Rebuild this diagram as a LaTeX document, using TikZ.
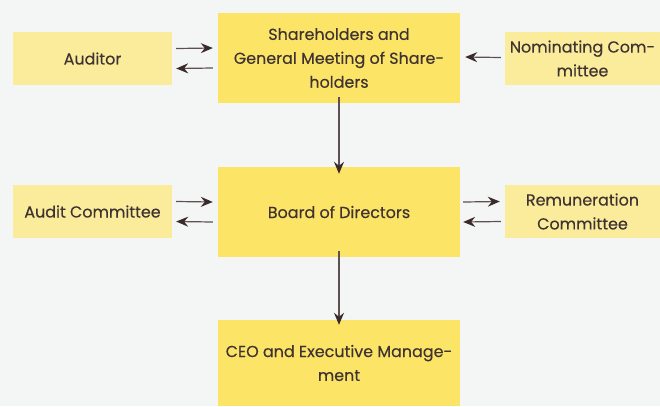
\documentclass[tikz,border=0pt]{standalone}
\usepackage{fontspec}
\setmainfont{Poppins}[FakeBold=0.25]
\usetikzlibrary{arrows.meta}
\definecolor{bg}{HTML}{F4F6F6}
\definecolor{main}{HTML}{FCE566}
\definecolor{side}{HTML}{FAEC9A}
\definecolor{txt}{HTML}{3E3232}
\definecolor{arr}{HTML}{3A2A2A}
\definecolor{shaft}{HTML}{5E5050}
\tikzset{
  box/.style={fill=main, draw=none, text=txt, align=center, font=\fontsize{16}{24}\selectfont, inner sep=0pt},
  sidebox/.style={fill=side, draw=none, text=txt, align=center, font=\fontsize{16}{24}\selectfont, inner sep=0pt},
  conn/.style={draw=shaft, line width=1.2bp, -{Stealth[length=12bp,width=10bp,inset=4bp,color=arr]}}
}
\begin{document}
\begin{tikzpicture}[x=1bp,y=-1bp]
\fill[bg] (0,0) rectangle (660,406);
\useasboundingbox (0,0) rectangle (660,406);
% main boxes
\node[box, minimum width=242bp, minimum height=90bp] (sh) at (339,58) {Shareholders and\\General Meeting of Share-\\holders};
\node[box, minimum width=242bp, minimum height=90bp] (bd) at (339,212) {Board of Directors};
\node[box, minimum width=242bp, minimum height=86bp] (ceo) at (339,363) {CEO and Executive Manage-\\ment};
% side boxes
\node[sidebox, minimum width=159bp, minimum height=53bp] (aud) at (92.5,58.5) {Auditor};
\node[sidebox, minimum width=155bp, minimum height=53bp] (nom) at (582.5,58.5) {Nominating Com-\\mittee};
\node[sidebox, minimum width=159bp, minimum height=53bp] (ac) at (92.5,211.5) {Audit Committee};
\node[sidebox, minimum width=155bp, minimum height=53bp] (rem) at (582.5,211.5) {Remuneration\\Committee};
% connectors
\draw[conn] ([shift={(4,-10)}]aud.east) -- ([shift={(-5,-10)}]sh.west);
\draw[conn] ([shift={(-5,10)}]sh.west) -- ([shift={(4,10)}]aud.east);
\draw[conn] ([shift={(-4,-1)}]nom.west) -- ([shift={(5,-1)}]sh.east);
\draw[conn] ([yshift=6]sh.south) -- ([yshift=-7]bd.north);
\draw[conn] ([shift={(4,-10)}]ac.east) -- ([shift={(-5,-10)}]bd.west);
\draw[conn] ([shift={(-5,10)}]bd.west) -- ([shift={(4,10)}]ac.east);
\draw[conn] ([shift={(3,-10)}]bd.east) -- ([shift={(-5,-10)}]rem.west);
\draw[conn] ([shift={(-4,10)}]rem.west) -- ([shift={(3,10)}]bd.east);
\draw[conn] ([yshift=6]bd.south) -- ([yshift=-5]ceo.north);
\end{tikzpicture}
\end{document}
